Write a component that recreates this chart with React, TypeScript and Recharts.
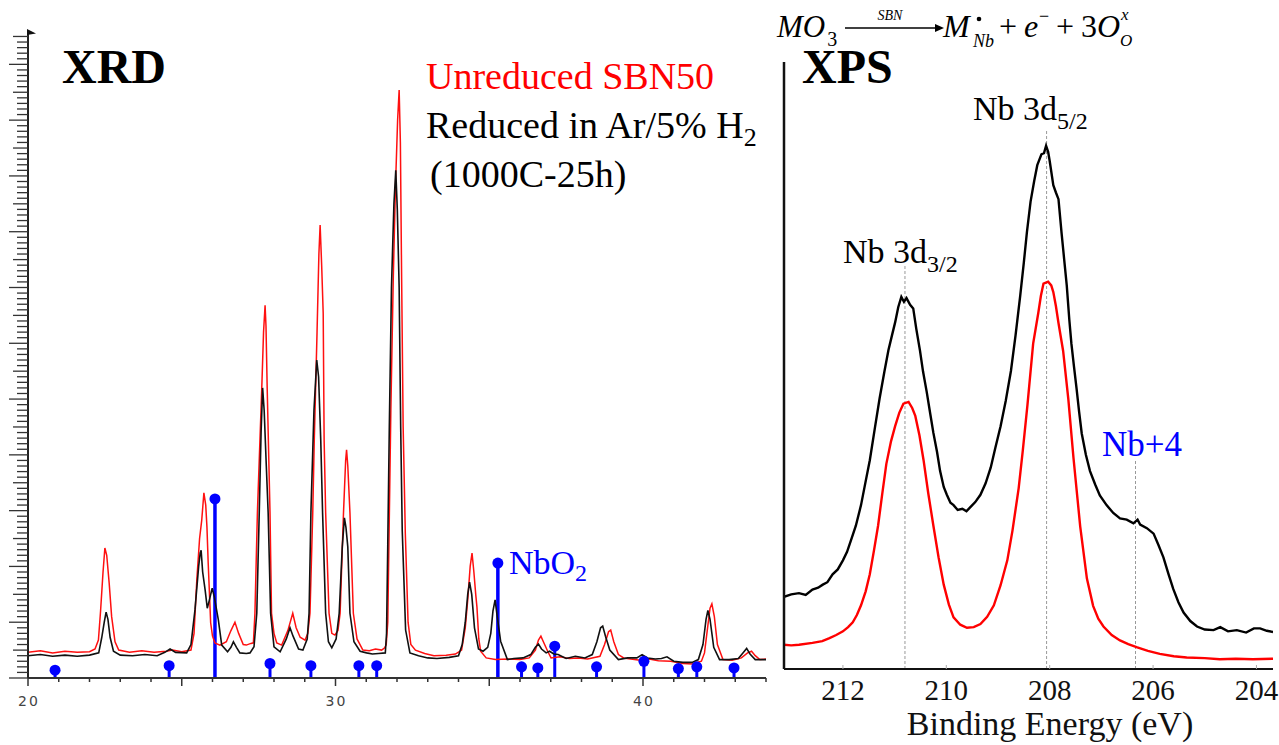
import React from "react";
import {
  ComposedChart,
  Line,
  Scatter,
  XAxis,
  YAxis,
  ReferenceLine,
} from "recharts";

// ---- XRD: 2theta (deg), intensity (a.u.) ----
const xrdUnreduced: [number, number][] = [
  [20.0, 4.6], [20.4, 4.9], [20.8, 4.5], [21.2, 4.8], [21.6, 4.6], [22.0, 4.7],
  [22.18, 5.2], [22.29, 6.8], [22.36, 12], [22.44, 19], [22.5, 23.3], [22.56, 22],
  [22.64, 17], [22.72, 11], [22.83, 6.5], [22.95, 5.0], [23.3, 4.6], [23.7, 4.9],
  [24.1, 4.6], [24.5, 4.8], [24.7, 5.0], [25.0, 4.7], [25.3, 5.0], [25.4, 8],
  [25.49, 17.6], [25.58, 25], [25.65, 28.3], [25.72, 33.2], [25.78, 31], [25.82, 27],
  [25.86, 20.6], [25.94, 9.9], [26.0, 7.5], [26.08, 6.3], [26.24, 5.9], [26.45, 6.5],
  [26.6, 8.5], [26.73, 10.0], [26.85, 8], [27.0, 6], [27.1, 5.9], [27.25, 6.2],
  [27.33, 6.3], [27.38, 11.6], [27.46, 29.6], [27.6, 51.6], [27.66, 62], [27.71, 66.8],
  [27.74, 63], [27.78, 51.6], [27.87, 29.6], [27.92, 11.6], [28.0, 8], [28.09, 6.3],
  [28.25, 5.9], [28.45, 8.5], [28.61, 11.6], [28.72, 9], [28.85, 7.3], [29.01, 6.8],
  [29.1, 8], [29.17, 11.6], [29.26, 29.6], [29.31, 42.7], [29.4, 62], [29.46, 76],
  [29.5, 81.2], [29.55, 74], [29.6, 65.4], [29.63, 42.7], [29.68, 29.6], [29.79, 11.6],
  [29.88, 8], [29.98, 7.7], [30.08, 8.5], [30.15, 11.6], [30.26, 29.6], [30.33, 39],
  [30.36, 40.9], [30.4, 38], [30.47, 29.6], [30.58, 11.6], [30.7, 7], [30.89, 5.0],
  [31.1, 4.9], [31.3, 5.2], [31.5, 5.0], [31.6, 5.4], [31.65, 6], [31.7, 10],
  [31.74, 25], [31.8, 48], [31.88, 72], [31.95, 88], [32.02, 100], [32.07, 105.4],
  [32.11, 96], [32.15, 72], [32.2, 45], [32.27, 26], [32.36, 10], [32.45, 6],
  [32.6, 5.0], [32.9, 4.4], [33.2, 4.0], [33.6, 4.1], [33.9, 4.3], [34.1, 5.0],
  [34.22, 9], [34.3, 14], [34.38, 20], [34.44, 22.4], [34.5, 19], [34.56, 15],
  [34.6, 12.7], [34.66, 7], [34.72, 4.8], [34.9, 3.6], [35.2, 3.3], [35.6, 3.4],
  [36.0, 3.3], [36.3, 3.6], [36.5, 5], [36.6, 6.8], [36.68, 7.5], [36.76, 6.5],
  [36.9, 4.8], [37.01, 3.6], [37.3, 3.8], [37.6, 3.5], [37.9, 3.6], [38.2, 3.4],
  [38.6, 3.9], [38.75, 6], [38.88, 8.3], [38.95, 8.6], [39.05, 6.5], [39.2, 4.2],
  [39.37, 3.6], [39.6, 3.4], [39.9, 3.2], [40.2, 3.4], [40.5, 3.1], [40.9, 3.0],
  [41.3, 2.6], [41.6, 2.5], [41.9, 3.0], [42.0, 4.5], [42.1, 9], [42.18, 12.5],
  [42.24, 13.3], [42.32, 11], [42.42, 6], [42.6, 3.3], [42.9, 3.2], [43.2, 3.6],
  [43.4, 4.5], [43.53, 4.8], [43.65, 4.0], [43.8, 3.3], [44.0, 3.4],
];

const xrdReduced: [number, number][] = [
  [20.0, 4.0], [20.4, 4.2], [20.8, 3.9], [21.2, 4.1], [21.6, 3.9], [22.0, 4.1],
  [22.3, 4.5], [22.4, 7.3], [22.48, 10], [22.54, 11.8], [22.6, 10.5], [22.67, 7.3],
  [22.78, 4.8], [23.0, 4.1], [23.4, 4.0], [23.8, 4.2], [24.2, 4.0], [24.45, 4.6],
  [24.62, 5.2], [24.8, 4.6], [25.16, 4.5], [25.3, 6], [25.43, 12.2], [25.55, 20],
  [25.6, 22.4], [25.63, 22.9], [25.68, 19], [25.76, 15.8], [25.83, 12.5], [25.9, 14],
  [25.99, 16.1], [26.06, 14.5], [26.19, 10.4], [26.3, 5.9], [26.49, 4.7], [26.6, 5.5],
  [26.68, 6.5], [26.78, 5.5], [26.89, 4.5], [27.1, 4.4], [27.22, 4.5], [27.35, 5.6],
  [27.44, 11.6], [27.52, 29.6], [27.58, 44], [27.63, 52], [27.68, 48], [27.75, 38],
  [27.81, 29.6], [27.89, 11.6], [28.0, 5.6], [28.2, 4.7], [28.4, 7], [28.52, 9.0],
  [28.62, 7.5], [28.8, 5.2], [28.94, 5.0], [29.08, 7], [29.14, 11.6], [29.2, 29.6],
  [29.3, 48], [29.39, 57], [29.45, 54], [29.52, 42.7], [29.58, 29.6], [29.68, 11.6],
  [29.77, 6.5], [29.88, 5.4], [30.02, 7], [30.12, 11.6], [30.22, 23.5], [30.29, 28.7],
  [30.34, 27], [30.4, 23.5], [30.47, 11.6], [30.6, 6.5], [30.8, 4.8], [31.01, 4.5],
  [31.2, 4.3], [31.4, 4.4], [31.62, 4.5], [31.66, 8], [31.7, 24], [31.75, 45],
  [31.82, 70], [31.9, 85], [31.96, 91], [32.01, 84], [32.07, 70], [32.12, 45],
  [32.17, 26.5], [32.28, 8.6], [32.42, 4.5], [32.7, 4.0], [33.0, 3.6], [33.3, 3.5],
  [33.7, 3.7], [34.0, 4.0], [34.12, 6], [34.22, 10], [34.3, 15], [34.36, 17.2],
  [34.43, 15], [34.52, 9], [34.65, 5.2], [34.8, 4.8], [34.95, 5.5], [35.05, 8],
  [35.12, 12], [35.19, 14.0], [35.26, 11], [35.37, 6.6], [35.59, 3.3], [35.8, 3.5],
  [36.1, 3.6], [36.35, 4.2], [36.5, 5.5], [36.6, 6.1], [36.7, 5.2], [36.85, 4.5],
  [36.96, 4.8], [37.1, 4.3], [37.24, 4.2], [37.5, 3.5], [37.8, 3.9], [38.11, 3.6],
  [38.35, 4.2], [38.5, 6.5], [38.62, 9.0], [38.69, 9.3], [38.78, 7.5], [38.92, 5],
  [39.2, 3.3], [39.5, 3.6], [39.8, 3.6], [39.97, 4.2], [40.15, 3.6], [40.4, 3.4],
  [40.6, 3.5], [40.78, 3.8], [41.0, 3.0], [41.3, 2.8], [41.6, 2.8], [41.8, 3.3],
  [41.95, 6], [42.05, 10.5], [42.11, 12.1], [42.18, 10.5], [42.3, 5.5], [42.49, 3.3],
  [42.8, 3.3], [43.1, 3.5], [43.25, 4.5], [43.37, 5.3], [43.48, 4.3], [43.65, 3.3],
  [44.0, 3.3],
];

// NbO2 reference pattern (stick positions / heights)
const nbo2Angles = [20.88, 24.59, 26.08, 27.87, 29.2, 30.76, 31.34, 35.28, 36.05, 36.58, 37.13, 38.49, 40.03, 41.15, 41.75, 42.96];
const nbo2Heights = [1.4, 2.2, 32.1, 2.6, 2.2, 2.2, 2.2, 20.6, 2.0, 1.8, 5.7, 2.0, 3.0, 1.7, 2.0, 1.8];

const xrdXTicks = Array.from({ length: 25 }, (_, i) => 20 + i);
const xrdXLabels = [20, 30, 40];
const xrdYTicks = Array.from({ length: 116 }, (_, i) => i);

// ---- XPS: binding energy (eV), intensity (a.u.) ----
const xpsReduced: [number, number][] = [
  [213.14, 11.9], [213.0, 12.3], [212.85, 12.5], [212.72, 12.2], [212.59, 13.1], [212.48, 13.4],
  [212.39, 13.9], [212.3, 14.3], [212.2, 15.6], [212.1, 16.4], [212.0, 17.9], [211.92, 19.3],
  [211.84, 21.3], [211.75, 23.6], [211.65, 27.0], [211.57, 30.5], [211.48, 34.4], [211.38, 39.8],
  [211.29, 44.6], [211.2, 48.9], [211.12, 52.5], [211.05, 55.0], [210.99, 57.1], [210.93, 59.6],
  [210.87, 61.3], [210.82, 60.5], [210.77, 61.1], [210.7, 60.0], [210.64, 59.4], [210.58, 56.0],
  [210.51, 52.5], [210.45, 49.0], [210.38, 45.7], [210.31, 42.0], [210.25, 38.9], [210.18, 35.8],
  [210.12, 32.6], [210.05, 30.0], [209.99, 28.7], [209.92, 27.4], [209.86, 27.0], [209.78, 26.2],
  [209.69, 26.4], [209.61, 26.0], [209.53, 26.7], [209.44, 27.5], [209.34, 28.7], [209.24, 30.6],
  [209.14, 33.2], [209.05, 36.5], [208.95, 40.0], [208.85, 44.2], [208.75, 49.1], [208.66, 55.0],
  [208.57, 61.5], [208.5, 67.0], [208.44, 72.0], [208.37, 77.0], [208.3, 80.4], [208.24, 83.0],
  [208.16, 84.8], [208.11, 85.0], [208.07, 86.2], [208.03, 85.2], [208.0, 83.7], [207.93, 79.7],
  [207.88, 78.5], [207.83, 77.4], [207.77, 71.8], [207.72, 67.5], [207.67, 63.2], [207.62, 57.5],
  [207.58, 53.6], [207.53, 49.8], [207.48, 46.2], [207.43, 42.3], [207.38, 38.8], [207.3, 35.3],
  [207.22, 32.6], [207.12, 30.4], [207.03, 28.6], [206.9, 27.0], [206.77, 25.7], [206.64, 24.8],
  [206.51, 24.6], [206.38, 24.0], [206.3, 24.6], [206.25, 23.8], [206.12, 23.2], [205.99, 22.3],
  [205.9, 20.5], [205.8, 18.4], [205.7, 15.6], [205.61, 13.2], [205.51, 11.0], [205.41, 9.3],
  [205.28, 7.9], [205.15, 7.0], [205.0, 6.5], [204.83, 6.4], [204.7, 6.9], [204.55, 6.2],
  [204.38, 6.4], [204.2, 6.0], [204.05, 6.7], [203.93, 6.7], [203.8, 6.3], [203.68, 6.1],
];

const xpsUnreduced: [number, number][] = [
  [213.14, 4.0], [213.0, 3.9], [212.85, 4.0], [212.59, 4.3], [212.4, 4.6], [212.26, 5.1],
  [212.13, 5.6], [212.0, 6.2], [211.9, 6.9], [211.81, 7.7], [211.73, 8.9], [211.65, 10.5],
  [211.56, 12.8], [211.48, 15.6], [211.4, 19.5], [211.32, 23.6], [211.24, 28.8], [211.16, 33.8],
  [211.07, 37.5], [210.99, 40.0], [210.91, 42.2], [210.83, 43.7], [210.73, 44.0], [210.66, 43.0],
  [210.6, 41.7], [210.52, 38.5], [210.44, 34.4], [210.35, 29.0], [210.25, 23.6], [210.15, 18.4],
  [210.05, 13.9], [209.95, 10.6], [209.86, 8.5], [209.73, 7.3], [209.6, 6.8], [209.47, 6.9],
  [209.34, 7.4], [209.21, 8.6], [209.08, 10.5], [208.95, 13.8], [208.82, 17.9], [208.72, 22.8],
  [208.6, 29.8], [208.52, 36.0], [208.43, 43.5], [208.32, 53.6], [208.22, 58.7], [208.17, 61.5],
  [208.12, 63.5], [208.03, 63.8], [207.97, 63.2], [207.93, 62.1], [207.88, 59.8], [207.83, 57.0],
  [207.74, 52.4], [207.64, 44.5], [207.54, 34.8], [207.41, 23.5], [207.28, 14.9], [207.16, 10.4],
  [207.06, 8.3], [206.96, 7.0], [206.8, 5.6], [206.64, 4.7], [206.48, 4.1], [206.32, 3.6],
  [206.1, 3.0], [205.87, 2.5], [205.6, 2.1], [205.35, 1.9], [205.0, 1.8], [204.71, 1.6],
  [204.4, 1.7], [204.07, 1.6], [203.68, 1.7],
];

const xpsTicks = [212, 210, 208, 206, 204];
const guideEnergies = [210.8, 208.06, 206.34];
const guideTops = [66.4, 88.8, 34.6];

const serif = "'Liberation Serif', 'Times New Roman', serif";

const toPoints = (arr: [number, number][]) => arr.map(([x, y]) => ({ x, y }));

const XrdYTick = (props: any) => {
  const { x, y, payload } = props;
  const v = payload.value;
  const len = v % 10 === 0 ? 19 : v % 5 === 0 ? 15 : 11;
  return <line x1={x - len} x2={x} y1={y} y2={y} stroke="#333" strokeWidth={1.3} />;
};

const XrdXTick = (props: any) => {
  const { x, y, payload } = props;
  const v = payload.value;
  const len = v % 5 === 0 ? 8 : 4;
  return (
    <g>
      <line x1={x} x2={x} y1={y} y2={y + len} stroke="#333" strokeWidth={1.5} />
      {xrdXLabels.includes(v) && (
        <text x={x + 1} y={y + 28} textAnchor="middle" fontFamily="'DejaVu Sans', sans-serif" fontSize={14} letterSpacing={2} fill="#444">
          {v}
        </text>
      )}
    </g>
  );
};

const XpsTick = (props: any) => {
  const { x, y, payload } = props;
  return (
    <g>
      <line x1={x} x2={x} y1={y} y2={y - 4} stroke="#aaa" strokeWidth={1} />
      <text x={x} y={y + 31} textAnchor="middle" fontFamily={serif} fontSize={29} fill="#111">
        {payload.value}
      </text>
    </g>
  );
};

const StickDot = (props: any) => <circle cx={props.cx} cy={props.cy} r={5.5} fill="#0000ff" />;

export default function App() {
  const nbo2Dots = nbo2Angles.map((x, i) => ({ x, y: nbo2Heights[i] }));

  return (
    <div style={{ position: "absolute", left: 0, top: 0, width: 1279, height: 745, background: "#fff" }}>
      {/* XRD panel */}
      <div style={{ position: "absolute", left: 0, top: 0 }}>
        <ComposedChart width={780} height={745} margin={{ top: 32, right: 14, bottom: 66, left: 27 }}>
          <XAxis
            type="number"
            dataKey="x"
            domain={[20, 44]}
            ticks={xrdXTicks}
            interval={0}
            height={1}
            tickSize={0}
            tickMargin={0}
            tick={<XrdXTick />}
            axisLine={{ stroke: "#333", strokeWidth: 2 }}
            allowDataOverflow
          />
          <YAxis
            type="number"
            dataKey="y"
            domain={[0, 115.8]}
            ticks={xrdYTicks}
            interval={0}
            width={1}
            tickSize={0}
            tickMargin={0}
            tick={<XrdYTick />}
            axisLine={{ stroke: "#222", strokeWidth: 2 }}
            allowDataOverflow
          />
          {nbo2Dots.map((d) => (
            <ReferenceLine
              key={d.x}
              segment={[{ x: d.x, y: 0 }, { x: d.x, y: d.y }]}
              stroke="#0000ff"
              strokeWidth={d.y > 10 ? 3.5 : 3}
            />
          ))}
          <Line data={toPoints(xrdUnreduced)} dataKey="y" type="linear" stroke="#ff1010" strokeWidth={1.5} dot={false} isAnimationActive={false} />
          <Line data={toPoints(xrdReduced)} dataKey="y" type="linear" stroke="#111" strokeWidth={1.6} dot={false} isAnimationActive={false} />
          <Scatter data={nbo2Dots} dataKey="y" shape={<StickDot />} isAnimationActive={false} />
        </ComposedChart>
      </div>

      {/* XPS panel */}
      <div style={{ position: "absolute", left: 770, top: 0 }}>
        <ComposedChart width={509} height={745} margin={{ top: 62, right: 6, bottom: 75, left: 13 }}>
          <XAxis
            type="number"
            dataKey="x"
            domain={[203.68, 213.14]}
            reversed
            ticks={xpsTicks}
            interval={0}
            height={1}
            tickSize={0}
            tickMargin={0}
            tick={<XpsTick />}
            axisLine={{ stroke: "#111", strokeWidth: 2 }}
            allowDataOverflow
          />
          <YAxis
            type="number"
            dataKey="y"
            domain={[0, 100]}
            width={1}
            tick={false}
            tickLine={false}
            axisLine={{ stroke: "#111", strokeWidth: 2.5 }}
            allowDataOverflow
          />
          {guideEnergies.map((e, i) => (
            <ReferenceLine
              key={e}
              segment={[{ x: e, y: 0 }, { x: e, y: guideTops[i] }]}
              stroke="#999"
              strokeDasharray="3 2"
              strokeWidth={1}
            />
          ))}
          <Line data={toPoints(xpsReduced)} dataKey="y" type="linear" stroke="#000" strokeWidth={2.4} dot={false} isAnimationActive={false} />
          <Line data={toPoints(xpsUnreduced)} dataKey="y" type="linear" stroke="#ff0000" strokeWidth={2.4} dot={false} isAnimationActive={false} />
        </ComposedChart>
      </div>

      {/* annotations */}
      <svg width={1279} height={745} style={{ position: "absolute", left: 0, top: 0, pointerEvents: "none" }}>
        <polygon points="27,29 36,33.5 27,35" fill="#111" />

        <text x={62} y={83} fontFamily={serif} fontWeight="bold" fontSize={48} fill="#000">XRD</text>
        <text x={426} y={89} fontFamily={serif} fontSize={38} fill="#ff0000">Unreduced SBN50</text>
        <text x={426} y={138} fontFamily={serif} fontSize={38} fill="#000">
          Reduced in Ar/5% H<tspan fontSize={26} dy={8}>2</tspan>
        </text>
        <text x={430} y={187} fontFamily={serif} fontSize={38} fill="#000">(1000C-25h)</text>
        <text x={509} y={574} fontFamily={serif} fontSize={34} fill="#0000ff">
          NbO<tspan fontSize={24} dy={7}>2</tspan>
        </text>

        {/* defect equation: MO3 -> M(Nb) + e- + 3 O(O) */}
        <text x={777} y={37} fontFamily={serif} fontSize={31} fill="#000">
          <tspan fontStyle="italic">MO</tspan>
          <tspan fontSize={20} dx={2} dy={9}>3</tspan>
        </text>
        <line x1={845} x2={936} y1={28} y2={28} stroke="#000" strokeWidth={1.3} />
        <polygon points="935,24 944,28 935,32" fill="#000" />
        <text x={890} y={20} textAnchor="middle" fontFamily={serif} fontStyle="italic" fontSize={14} fill="#000">SBN</text>
        <text x={943} y={37} fontFamily={serif} fontStyle="italic" fontSize={32} fill="#000">M</text>
        <circle cx={979} cy={19} r={2.3} fill="#000" />
        <text x={973} y={47} fontFamily={serif} fontStyle="italic" fontSize={18} fill="#000">Nb</text>
        <text x={999} y={37} fontFamily={serif} fontSize={32} fill="#000">+</text>
        <text x={1024} y={37} fontFamily={serif} fontStyle="italic" fontSize={32} fill="#000">e</text>
        <text x={1039} y={22} fontFamily={serif} fontSize={18} fill="#000">−</text>
        <text x={1056} y={37} fontFamily={serif} fontSize={32} fill="#000">+</text>
        <text x={1081} y={37} fontFamily={serif} fontSize={32} fill="#000">3</text>
        <text x={1097} y={37} fontFamily={serif} fontStyle="italic" fontSize={32} fill="#000">O</text>
        <text x={1121} y={20} fontFamily={serif} fontStyle="italic" fontSize={17} fill="#000">x</text>
        <text x={1120} y={46} fontFamily={serif} fontStyle="italic" fontSize={17} fill="#000">O</text>

        <text x={802} y={83} fontFamily={serif} fontWeight="bold" fontSize={48} fill="#000">XPS</text>
        <text x={973} y={120} fontFamily={serif} fontSize={34} fill="#000">
          Nb 3d<tspan fontSize={24} dy={9}>5/2</tspan>
        </text>
        <text x={843} y={263} fontFamily={serif} fontSize={34} fill="#000">
          Nb 3d<tspan fontSize={24} dy={9}>3/2</tspan>
        </text>
        <text x={1102} y={456} fontFamily={serif} fontSize={35} fill="#0000ff">Nb+4</text>
        <text x={1050} y={735} textAnchor="middle" fontFamily={serif} fontSize={34} fill="#111">Binding Energy (eV)</text>
      </svg>
    </div>
  );
}
